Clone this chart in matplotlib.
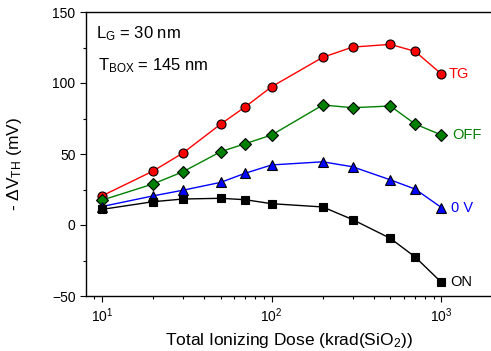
import matplotlib
matplotlib.use('Agg')
from matplotlib import pyplot as plt

plt.rcParams['font.family'] = ['Liberation Sans', 'DejaVu Sans']
plt.rcParams['mathtext.fontset'] = 'custom'
plt.rcParams['mathtext.rm'] = 'Liberation Sans'
plt.rcParams['mathtext.it'] = 'Liberation Sans:italic'
plt.rcParams['mathtext.default'] = 'rm'

dose = [10, 20, 30, 50, 70, 100, 200, 300, 500, 700, 1000]
tg = [20.5, 38.0, 50.7, 71.0, 83.3, 97.4, 118.1, 125.3, 127.2, 122.3, 106.3]
off = [17.5, 28.9, 37.5, 51.6, 57.3, 63.4, 84.5, 82.6, 83.8, 71.1, 63.4]
zero_v = [13.0, 20.5, 24.5, 30.0, 36.5, 42.3, 44.5, 41.0, 31.8, 25.3, 12.3]
on = [11.0, 16.4, 18.3, 18.8, 17.8, 15.0, 12.7, 3.8, -9.4, -22.5, -40.4]

series = [
    ('TG', tg, 'o', '#ff0000', 6.5, 7),
    ('OFF', off, 'D', '#008000', 6.0, 11),
    ('0 V', zero_v, '^', '#0000ff', 7.0, 10),
    ('ON', on, 's', '#000000', 5.8, 9),
]

fig = plt.figure(figsize=(4.91, 3.51), dpi=100)
ax = fig.add_axes([86 / 491, 55 / 351, 406.5 / 491, 284 / 351])

for name, vals, mk, col, ms, dx in series:
    ax.plot(dose, vals, color=col, lw=1.0, marker=mk, ms=ms,
            markerfacecolor=col, markeredgecolor='black', markeredgewidth=0.8)
    ax.annotate(name, (dose[-1], vals[-1]), xytext=(dx * 0.72, 0),
                textcoords='offset points', ha='left', va='center',
                color=col, fontsize=10.5)

ax.set_xscale('log')
ax.set_xlim(8.05, 2000)
ax.set_ylim(-50, 150)
ax.set_yticks([-50, 0, 50, 100, 150])
ax.set_yticks([-25, 25, 75, 125], minor=True)

ax.spines['right'].set_visible(False)
ax.tick_params(which='both', direction='out', top=False, right=False,
               labelsize=10, width=0.8)
ax.tick_params(which='major', length=4)
ax.tick_params(which='minor', length=2.5)
for s in ax.spines.values():
    s.set_linewidth(1.0)

ax.set_xlabel(r'Total Ionizing Dose (krad(SiO$_2$))', fontsize=12.5, labelpad=4)
ax.set_ylabel(r'- $\Delta$V$_{\mathrm{TH}}$ (mV)', fontsize=12.5)
ax.yaxis.set_label_coords(-0.153, 0.465)

ax.text(0.025, 0.925, r'L$_\mathrm{G}$ = 30 nm', transform=ax.transAxes,
        fontsize=12, va='center', ha='left')
ax.text(0.03, 0.81, r'T$_\mathrm{BOX}$ = 145 nm', transform=ax.transAxes,
        fontsize=12, va='center', ha='left')

fig.savefig('out.png', dpi=100)
